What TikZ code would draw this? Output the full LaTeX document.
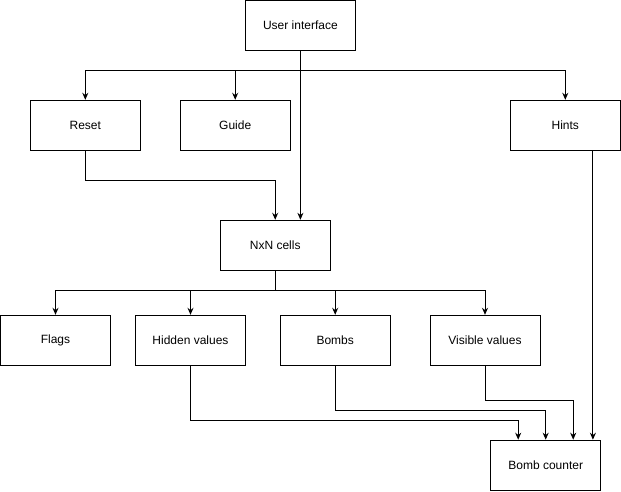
\documentclass[tikz,border=0pt]{standalone}
\usepackage{fontspec}
\setmainfont{Liberation Sans}
\usetikzlibrary{positioning, arrows.meta}

\begin{document}
\begin{tikzpicture}[
  x=1pt,
  y=-1pt,
  line width=1pt,
  every node/.style={
    draw,
    font=\fontsize{12}{14}\selectfont,
    minimum width=110pt,
    minimum height=50pt,
    inner sep=0pt,
  },
  link/.style={-{Stealth[length=7pt,width=6pt]}},
]
\useasboundingbox (0,0) rectangle (621,491);

% top level
\node (ui) at (300.4,25.2) {User interface};
\node (reset) at (85.3,125.3) {Reset};
\node (guide) at (235.2,125.3) {Guide};
\node (hints) at (565.3,125.3) {Hints};

\node (cells) at (275.2,245.3) {NxN cells};

% cell contents
\node (flags) at (55.5,340.3) {Flags};
\node (hidden) at (190.5,340.3) {Hidden values};
\node (bombs) at (335.2,340.3) {Bombs};
\node (visible) at (485,340.3) {Visible values};

\node (counter) at (545.7,465.2) {Bomb counter};

\draw[link] (ui.south) -- ++(0,20) -| (reset.north);
\draw[link] (ui.south) -- ++(0,20) -| (guide.north);
\draw[link] (ui.south) -- ++(0,20) -| (hints.north);
\draw[link] (ui.south) -- ([xshift=25.2pt]cells.north);
\draw[link] (reset.south) -- ++(0,30) -| (cells.north);

\draw[link] (cells.south) -- ++(0,20) -| (flags.north);
\draw[link] (cells.south) -- ++(0,20) -| (hidden.north);
\draw[link] (cells.south) -- ++(0,20) -| (bombs.north);
\draw[link] (cells.south) -- ++(0,20) -| (visible.north);

\draw[link] (hidden.south) -- ++(0,55) -| ([xshift=-27.5pt]counter.north);
\draw[link] (bombs.south) -- ++(0,45) -| (counter.north);
\draw[link] (visible.south) -- ++(0,35) -| ([xshift=27.5pt]counter.north);
\draw[link] ([xshift=27.6pt]hints.south) -- ([xshift=27.6pt]hints.south |- counter.north);

\end{tikzpicture}
\end{document}
